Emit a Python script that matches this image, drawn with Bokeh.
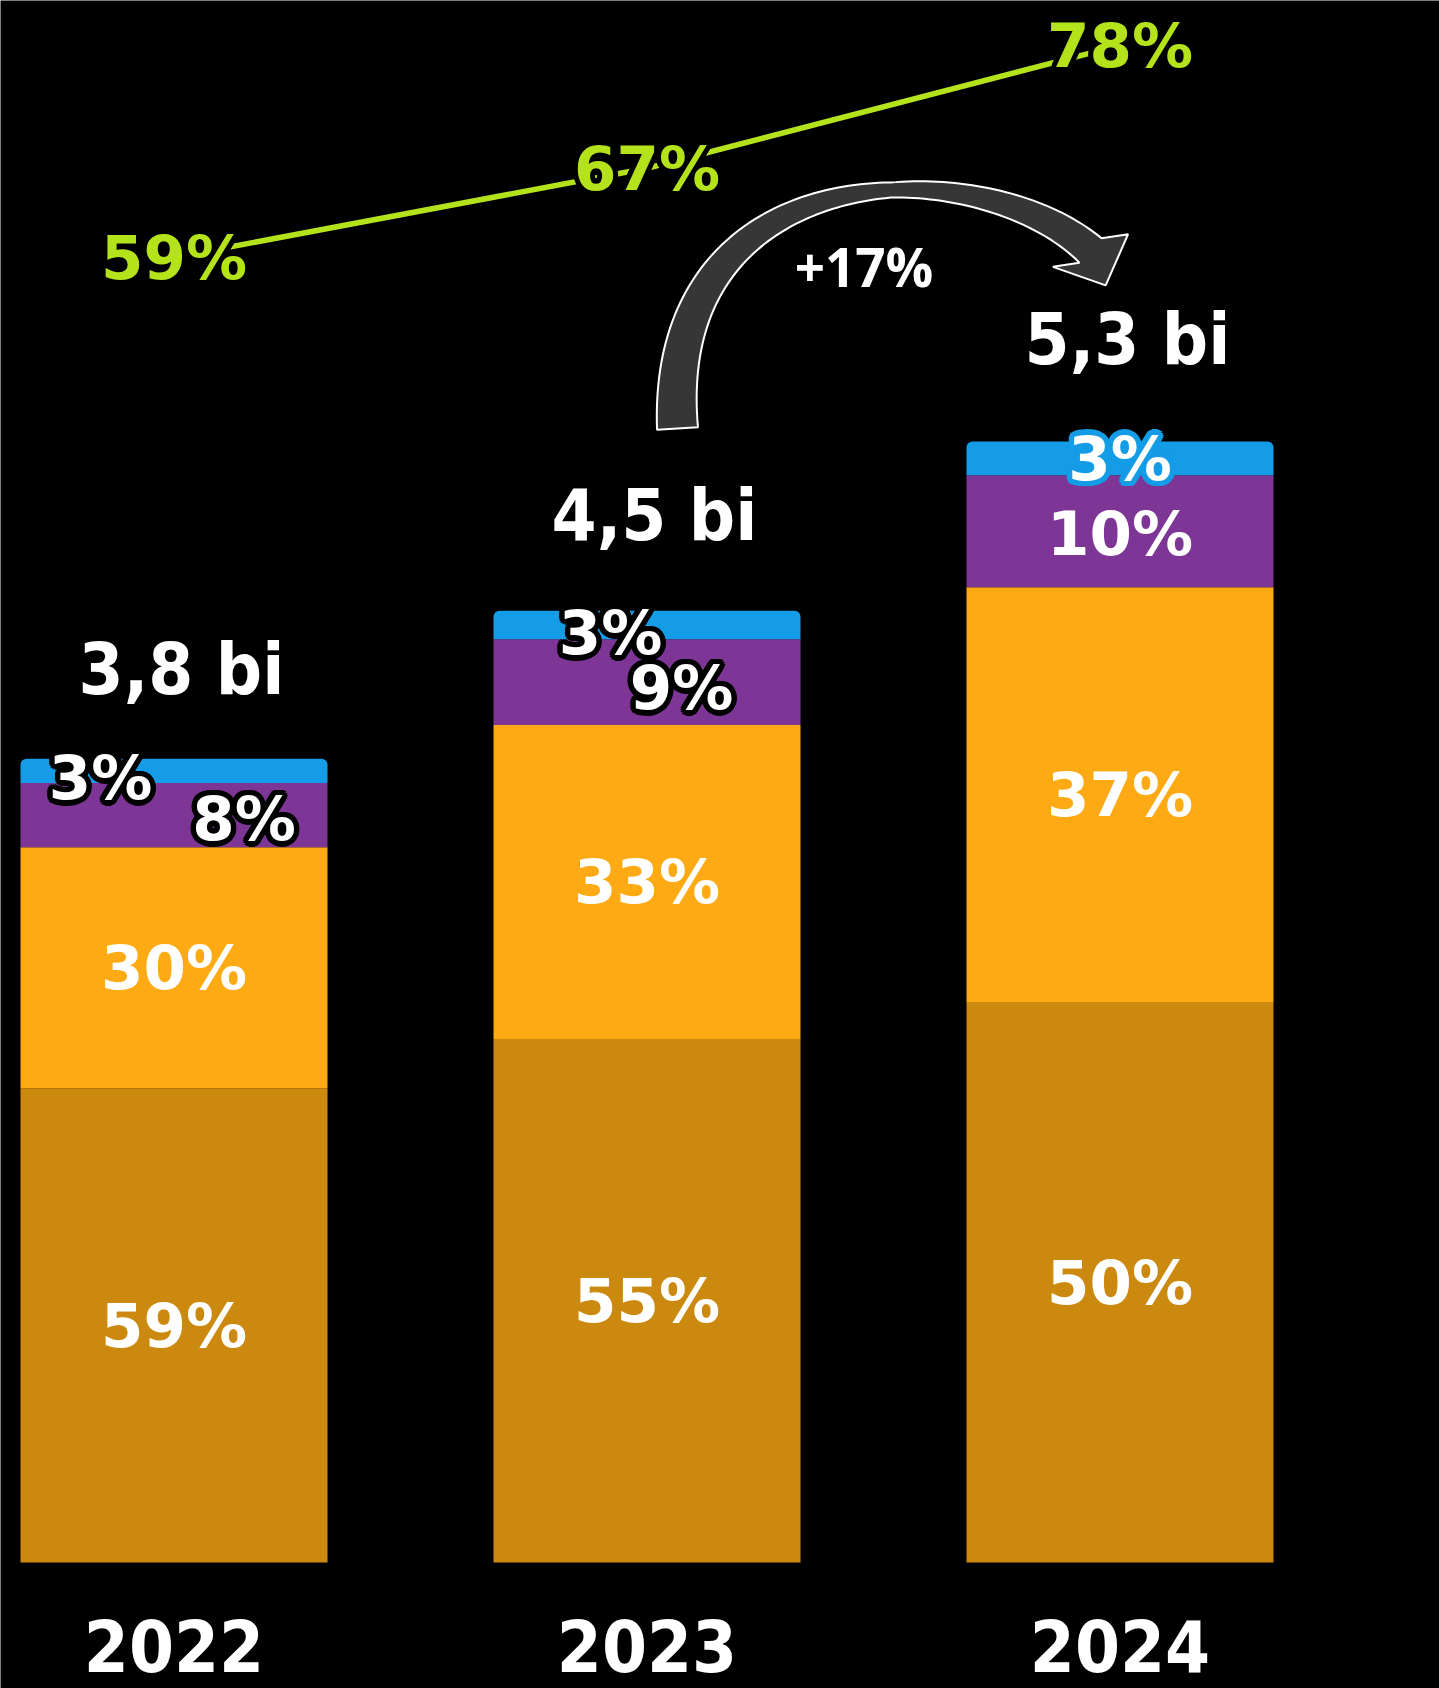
import numpy as np
from bokeh.plotting import figure
from bokeh.models import Range1d
from bokeh.core.properties import value
from bokeh.embed import file_html
from bokeh.resources import INLINE

# ---------------- data ----------------
years = ["2022", "2023", "2024"]
totals = [3.8, 4.5, 5.3]
total_labels = ["3,8 bi", "4,5 bi", "5,3 bi"]
share_dark = [59, 55, 50]
share_orange = [30, 33, 37]
share_purple = [8, 9, 10]
share_blue = [3, 3, 3]
line_pct = [59, 67, 78]
growth_label = "+17%"

# ---------------- layout constants ----------------
W, H = 1439, 1688
X0, XS = 173.5, 473.0      # pixel of x=0, pixels per category step
Y0, YS = 1562.0, 211.5     # pixel of y=0, pixels per "bi"
P_REF, P_PY, P_S = 59.0, 257.0, 11.16   # pct scale: value, pixel, px per %

def xr(px):
    return (np.asarray(px, dtype=float) - X0) / XS

def yr(py):
    return (Y0 - np.asarray(py, dtype=float)) / YS

DARK, ORANGE, PURPLE, BLUE = "#CB8A0F", "#FDAA14", "#7D3695", "#149CE6"
LIME = "#B4E31B"
BAR_W = 307 / XS

p = figure(width=W, height=H,
           x_range=Range1d(float(xr(0)), float(xr(W))),
           y_range=Range1d(float(yr(H)), float(yr(0))),
           output_backend="svg", toolbar_location=None,
           x_axis_type=None, y_axis_type=None, min_border=0,
           background_fill_color="black", border_fill_color="black",
           outline_line_color=None)
p.extra_y_ranges = {"pct": Range1d(P_REF - (H - P_PY) / P_S, P_REF + P_PY / P_S)}

xs = np.arange(len(years), dtype=float)
tot = np.array(totals)

# ---------------- stacked bars ----------------
series = [share_dark, share_orange, share_purple, share_blue]
colors = [DARK, ORANGE, PURPLE, BLUE]
bottom = np.zeros(len(years))
mids = []
for i, (sh, c) in enumerate(zip(series, colors)):
    top = bottom + tot * np.array(sh) / 100.0
    kw = {}
    if i == len(series) - 1:
        kw["border_radius"] = (6, 6, 0, 0)
    p.vbar(x=xs, bottom=bottom, top=top, width=BAR_W,
           fill_color=c, line_color=None, **kw)
    mids.append((bottom + top) / 2)
    bottom = top

# ---------------- line ----------------
p.line(xs, line_pct, y_range_name="pct", line_color=LIME, line_width=5.5)

# ---------------- curved arrow (annotation shape) ----------------
P0 = np.array([677.0, 428.0]); P1 = np.array([660.0, 150.0])
P2 = np.array([980.0, 150.0]); P3 = np.array([1090.0, 250.0])
t = np.linspace(0, 1, 100)
B = (((1 - t) ** 3)[:, None] * P0 + (3 * (1 - t) ** 2 * t)[:, None] * P1
     + (3 * (1 - t) * t ** 2)[:, None] * P2 + (t ** 3)[:, None] * P3)
D = ((3 * (1 - t) ** 2)[:, None] * (P1 - P0) + (6 * (1 - t) * t)[:, None] * (P2 - P1)
     + (3 * t ** 2)[:, None] * (P3 - P2))
D /= np.linalg.norm(D, axis=1)[:, None]
N = np.stack([D[:, 1], -D[:, 0]], axis=1)
wid = np.interp(t, [0, 0.6, 1], [41, 15, 33])
outer = B + N * (wid / 2)[:, None]
inner = B - N * (wid / 2)[:, None]
dh = np.array([0.40, 0.92]); dh /= np.linalg.norm(dh)
nh = np.array([dh[1], -dh[0]])
head = np.array([P3 + nh * 41, P3 + dh * 38, P3 - nh * 41])
poly = np.vstack([outer, head, inner[::-1]])
p.patch(xr(poly[:, 0]), yr(poly[:, 1]), fill_color="#363636",
        line_color="white", line_width=2)


# ---------------- text helpers ----------------
def txt(x, y, text, color, size, font="DejaVu Sans", baseline="middle",
        y_range_name="default", dx=0.0, dy=0.0):
    p.text(x=x, y=y, text=text, x_offset=dx, y_offset=dy,
           text_color=color, text_font=value(font), text_font_size=value(size),
           text_font_style="bold", text_align="center", text_baseline=baseline,
           y_range_name=y_range_name)


def outlined(x, y, text, color, outline, r, size, font="DejaVu Sans",
             y_range_name="default", n=16):
    for k in range(n):
        a = 2 * np.pi * k / n
        txt(x, y, text, outline, size, font, y_range_name=y_range_name,
            dx=float(r * np.cos(a)), dy=float(r * np.sin(a)))
    txt(x, y, text, color, size, font, y_range_name=y_range_name)


SEG = "61px"
# big segment labels (dark, orange)
for k in (0, 1):
    txt(list(xs), list(mids[k]), [f"{v}%" for v in series[k]], "white", SEG)

# purple & blue labels, with pixel nudges and outlines
nudge = {2: ([70, 34.5, 0], [3.5, 5.5, 2]), 3: ([-73.5, -36.5, 0], [7, 7.5, 0])}
outline_col = {2: ["black", "black", None], 3: ["black", "black", BLUE]}
for k in (2, 3):
    ddx, ddy = nudge[k]
    for j in range(len(years)):
        x = float(xs[j] + ddx[j] / XS)
        y = float(mids[k][j] - ddy[j] / YS)
        lab = f"{series[k][j]}%"
        oc = outline_col[k][j]
        if oc is None:
            txt([x], [y], [lab], "white", SEG)
        else:
            outlined([x], [y], [lab], "white", oc, 5.5, SEG)

# line labels
outlined(list(xs), line_pct, [f"{v}%" for v in line_pct], LIME, "black", 5, SEG,
         y_range_name="pct")

# totals above bars
txt(list(xs + 7.5 / XS), list(tot * 1.04 + 0.273), total_labels, "white", "72px",
    font="DejaVu Sans Condensed")

# growth label
txt([float(xr(863.5))], [float(yr(266))], [growth_label], "white", "53px",
    font="Open Sans")

# year labels
txt(list(xs), [float(yr(1644.5))] * len(years), years, "white", "72px",
    font="DejaVu Sans Condensed")

html = file_html(p, INLINE)
html = html.replace("<body>", '<body style="background-color:#000000;">', 1)
open("out.html", "w").write(html)
